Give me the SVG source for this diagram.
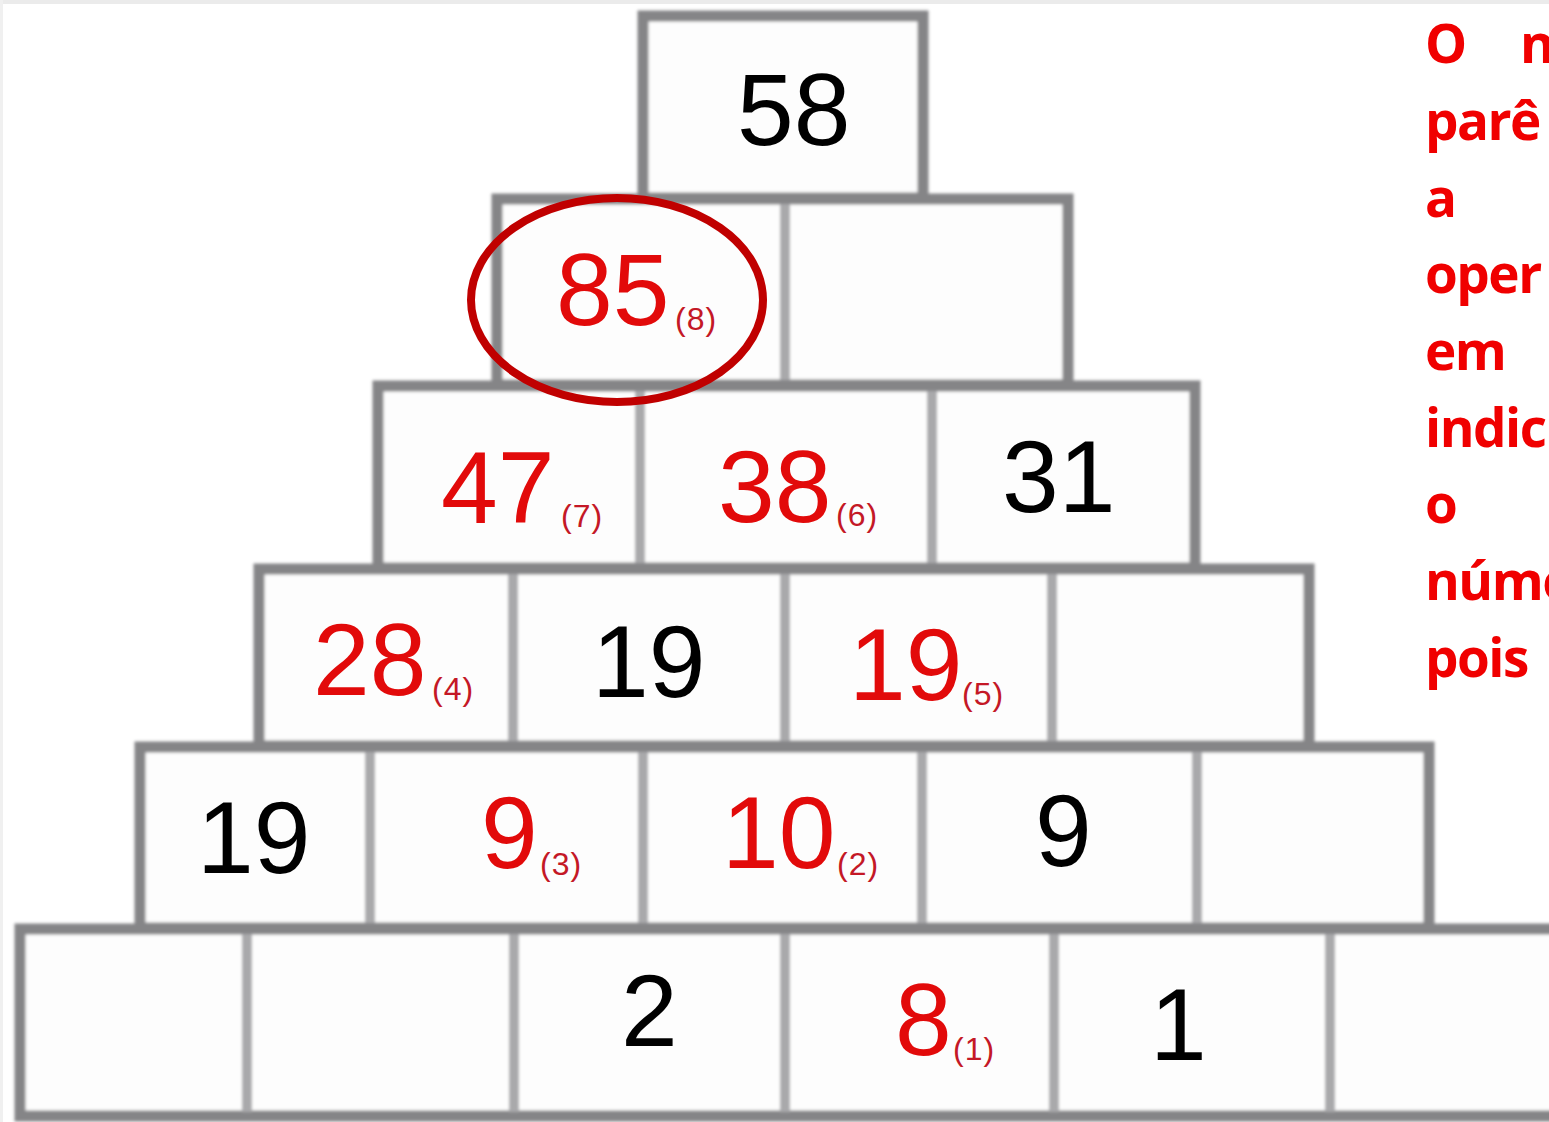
<svg xmlns="http://www.w3.org/2000/svg" width="1549" height="1122" viewBox="0 0 1549 1122">
<defs>
<filter id="soft" x="-5%" y="-5%" width="110%" height="110%"><feGaussianBlur stdDeviation="1.6"/></filter>
<style>
.row{fill:#fdfdfd;stroke:#858587;stroke-width:11}
.div{stroke:#a9a9ab;stroke-width:10}
.num{font-family:"Liberation Sans",Arial,sans-serif;font-size:102px}
.sub{font-family:"Liberation Sans",Arial,sans-serif;font-size:32px;letter-spacing:1px}
.red{fill:#e20a0a}
.sred{fill:#c41826}
.blk{fill:#000}
.note{font-family:"Open Sans","Liberation Sans",sans-serif;font-weight:bold;font-size:53px;fill:#f00000;letter-spacing:-1.5px}
</style>
</defs>
<rect x="0" y="0" width="1549" height="1122" fill="#ffffff"/>
<rect x="0" y="0" width="1549" height="4" fill="#ebebeb"/>
<rect x="0" y="0" width="3" height="1122" fill="#f0f0f0"/>

<g id="pyramid" filter="url(#soft)">
<g id="row0"><rect class="row" x="643" y="16" width="280" height="182"/></g>
<g id="row1"><rect class="row" x="497" y="199" width="571" height="186"/><line class="div" x1="785" y1="204" x2="785" y2="380"/></g>
<g id="row2"><rect class="row" x="378" y="386" width="817" height="182"/><line class="div" x1="640" y1="391" x2="640" y2="563"/><line class="div" x1="932" y1="391" x2="932" y2="563"/></g>
<g id="row3"><rect class="row" x="259" y="569" width="1050" height="177"/><line class="div" x1="513" y1="574" x2="513" y2="741"/><line class="div" x1="785" y1="574" x2="785" y2="741"/><line class="div" x1="1052" y1="574" x2="1052" y2="741"/></g>
<g id="row4"><rect class="row" x="140" y="747" width="1289" height="181"/><line class="div" x1="370" y1="752" x2="370" y2="923"/><line class="div" x1="643" y1="752" x2="643" y2="923"/><line class="div" x1="922" y1="752" x2="922" y2="923"/><line class="div" x1="1197" y1="752" x2="1197" y2="923"/></g>
<g id="row5"><rect class="row" x="20" y="929" width="1560" height="187"/><line class="div" x1="247" y1="934" x2="247" y2="1112"/><line class="div" x1="514" y1="934" x2="514" y2="1112"/><line class="div" x1="785" y1="934" x2="785" y2="1112"/><line class="div" x1="1054" y1="934" x2="1054" y2="1112"/><line class="div" x1="1330" y1="934" x2="1330" y2="1112"/></g>
</g>

<g id="connectors"/>

<g id="cell-58"><text class="num blk" x="737" y="145">58</text></g>
<g id="cell-85"><text class="num red" x="556" y="325">85</text><text class="sub sred" x="675" y="330">(8)</text></g>
<g id="cell-47"><text class="num red" x="441" y="523">47</text><text class="sub sred" x="561" y="527">(7)</text></g>
<g id="cell-38"><text class="num red" x="718" y="522">38</text><text class="sub sred" x="836" y="526">(6)</text></g>
<g id="cell-31"><text class="num blk" x="1002" y="512">31</text></g>
<g id="cell-28"><text class="num red" x="313" y="695">28</text><text class="sub sred" x="432" y="700">(4)</text></g>
<g id="cell-19a"><text class="num blk" x="592" y="697">19</text></g>
<g id="cell-19b"><text class="num red" x="849" y="700">19</text><text class="sub sred" x="962" y="705">(5)</text></g>
<g id="cell-19c"><text class="num blk" x="197" y="873">19</text></g>
<g id="cell-9a"><text class="num red" x="481" y="868">9</text><text class="sub sred" x="540" y="875">(3)</text></g>
<g id="cell-10"><text class="num red" x="722" y="868">10</text><text class="sub sred" x="837" y="875">(2)</text></g>
<g id="cell-9b"><text class="num blk" x="1035" y="866">9</text></g>
<g id="cell-2"><text class="num blk" x="621" y="1046">2</text></g>
<g id="cell-8"><text class="num red" x="895" y="1055">8</text><text class="sub sred" x="953" y="1060">(1)</text></g>
<g id="cell-1"><text class="num blk" x="1150" y="1060">1</text></g>

<g id="highlight"><ellipse cx="617" cy="300" rx="146" ry="102" fill="none" stroke="#c00000" stroke-width="8"/></g>

<g id="note">
<text class="note" x="1425" y="63">O<tspan x="1520">n</tspan></text>
<text class="note" x="1425" y="140">parê</text>
<text class="note" x="1425" y="217">a</text>
<text class="note" x="1425" y="293">oper</text>
<text class="note" x="1425" y="370">em</text>
<text class="note" x="1425" y="447">indic</text>
<text class="note" x="1425" y="523">o</text>
<text class="note" x="1425" y="600">núme</text>
<text class="note" x="1425" y="677">pois</text>
</g>
</svg>
